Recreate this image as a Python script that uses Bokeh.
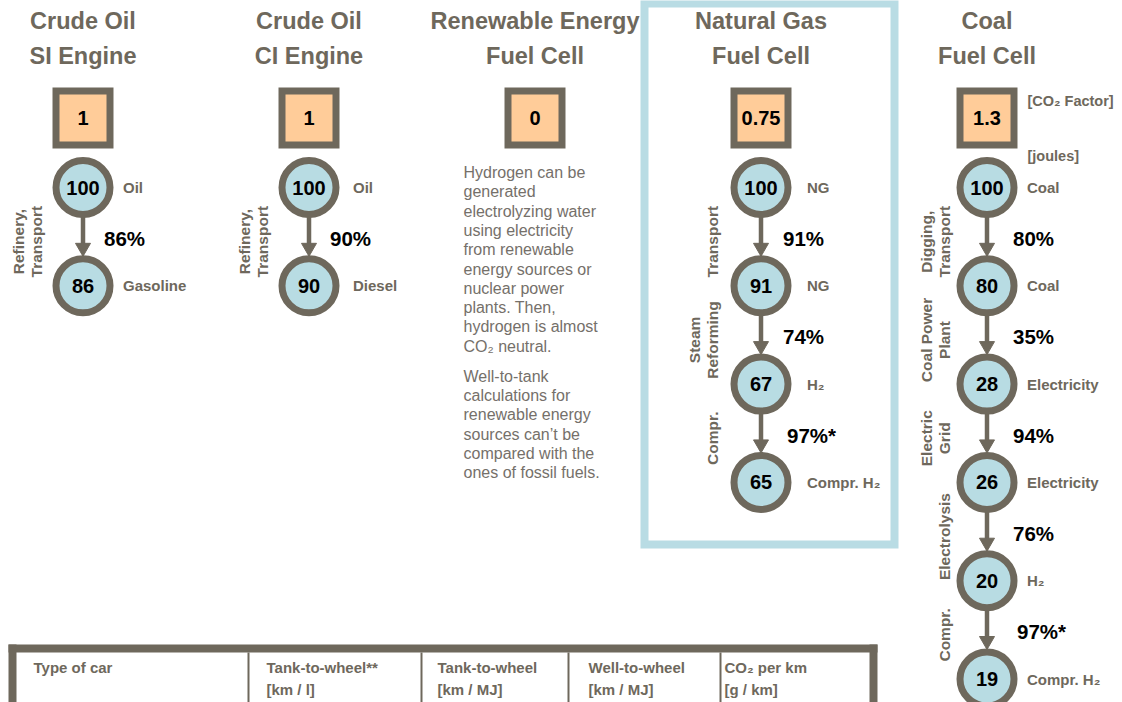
import numpy as np
from bokeh.plotting import figure
from bokeh.models import Range1d, ColumnDataSource
from bokeh.core.properties import value
from bokeh.embed import file_html
from bokeh.resources import INLINE

# ---------------- data ----------------
titles_top = ["Crude Oil", "Crude Oil", "Renewable Energy", "Natural Gas", "Coal"]
titles_bottom = ["SI Engine", "CI Engine", "Fuel Cell", "Fuel Cell", "Fuel Cell"]
co2_factor = ["1", "1", "0", "0.75", "1.3"]
node_values = [[100, 86], [100, 90], [], [100, 91, 67, 65], [100, 80, 28, 26, 20, 19]]
node_names = [["Oil", "Gasoline"], ["Oil", "Diesel"], [],
              ["NG", "NG", "H₂", "Compr. H₂"],
              ["Coal", "Coal", "Electricity", "Electricity", "H₂", "Compr. H₂"]]
step_efficiency = [["86%"], ["90%"], [], ["91%", "74%", "97%*"],
                   ["80%", "35%", "94%", "76%", "97%*"]]
step_names = [[["Refinery,", "Transport"]], [["Refinery,", "Transport"]], [],
              [["Transport"], ["Steam", "Reforming"], ["Compr."]],
              [["Digging,", "Transport"], ["Coal Power", "Plant"], ["Electric", "Grid"],
               ["Electrolysis"], ["Compr."]]]
unit_labels = ["[CO₂ Factor]", "[joules]"]
renewable_note = [
    ["Hydrogen can be", "generated", "electrolyzing  water", "using electricity",
     "from renewable", "energy sources or", "nuclear power", "plants. Then,",
     "hydrogen is almost", "CO₂ neutral."],
    ["Well-to-tank", "calculations for", "renewable energy", "sources can’t be",
     "compared with the", "ones of fossil fuels."],
]
table_header_1 = ["Type of  car", "Tank-to-wheel**", "Tank-to-wheel", "Well-to-wheel", "CO₂ per km"]
table_header_2 = ["", "[km / l]", "[km / MJ]", "[km / MJ]", "[g / km]"]

# ---------------- style / layout ----------------
FONT = "Liberation Sans"
GRAY = "#6E685C"
BLUE = "#B8DCE3"
ORANGE = "#FFCC99"
BOXBLUE = "#B9DCE4"
TXT_GRAY = "#6E685C"

W, H = 1122, 702
col_x = [82.5 + 226 * i for i in range(5)]
title_y = [20, 55]
sq_y = 117.5
node_y0, node_dy = 187, 98.3
pct_dx = [21, 21, 0, 22, 26]
name_dx = [40, 44, 0, 46, 40]
vlab_dx = [-47, -47, 0, -49, -43]

p = figure(width=W, height=H, x_range=Range1d(0, W), y_range=Range1d(H, 0),
           output_backend="svg", toolbar_location=None,
           x_axis_type=None, y_axis_type=None, min_border=0)
p.outline_line_color = None
p.background_fill_color = "white"
p.border_fill_color = "white"


def add_text(xs, ys, texts, size, color, bold=True, align="left", angle=0.0):
    src = ColumnDataSource(dict(x=xs, y=ys, t=texts))
    p.text(x="x", y="y", text="t", source=src, text_font=value(FONT),
           text_font_size=value(f"{size}px"),
           text_font_style="bold" if bold else "normal",
           text_color=color, text_align=align, text_baseline="middle", angle=angle)


# highlight box around natural gas column
bx_l, bx_r, bx_t, bx_b, bw = 640, 898, -1, 548, 8
p.rect(x=[(bx_l + bx_r) / 2], y=[(bx_t + bx_b) / 2], width=[bx_r - bx_l - bw],
       height=[bx_b - bx_t - bw], fill_color=None, line_color=BOXBLUE, line_width=bw,
       line_join="miter")

# titles
add_text(col_x, [title_y[0]] * 5, titles_top, 23.5, TXT_GRAY, align="center")
add_text(col_x, [title_y[1]] * 5, titles_bottom, 23.5, TXT_GRAY, align="center")

# CO2 factor squares
p.rect(x=col_x, y=[sq_y] * 5, width=54, height=54, fill_color=ORANGE,
       line_color=GRAY, line_width=7, line_join="miter")
add_text(col_x, [sq_y] * 5, co2_factor, 20, "black", align="center")
add_text([col_x[4] + 40.5] * 2, [100, 155], unit_labels, 14.5, TXT_GRAY)

# chains
ax, ay0, ay1, hx, hy = [], [], [], [], []
cx_l, cy_l, val_l, nm_x, nm_y, nm_t = [], [], [], [], [], []
pc_x, pc_y, pc_t = [], [], []
vl_x, vl_y, vl_t = [], [], []
R_OUT = 30.5
HEAD = 15
for i, vals in enumerate(node_values):
    cx = col_x[i]
    for k, v in enumerate(vals):
        y = node_y0 + node_dy * k
        cx_l.append(cx); cy_l.append(y); val_l.append(str(v))
        nm_x.append(cx + name_dx[i]); nm_y.append(y); nm_t.append(node_names[i][k])
    for k, pct in enumerate(step_efficiency[i]):
        ya = node_y0 + node_dy * k
        yb = node_y0 + node_dy * (k + 1)
        tip = yb - R_OUT + 1
        ax.append(cx); ay0.append(ya + R_OUT - 1); ay1.append(tip - 6)
        hx.append(cx); hy.append(tip - HEAD * 0.577)
        mid = (ya + yb) / 2
        pc_x.append(cx + pct_dx[i] + (4 if "*" in pct else 0)); pc_y.append(mid + 2); pc_t.append(pct)
        lines = step_names[i][k]
        n = len(lines)
        for j, ln in enumerate(lines):
            vl_x.append(cx + vlab_dx[i] - (n - 1 - j) * 18); vl_y.append(mid + 5); vl_t.append(ln)

p.segment(x0=ax, y0=ay0, x1=ax, y1=ay1, line_color=GRAY, line_width=4.5)
p.scatter(x=hx, y=hy, marker="inverted_triangle", size=HEAD, fill_color=GRAY, line_color=GRAY)
p.circle(x=cx_l, y=cy_l, radius=27, fill_color=BLUE, line_color=GRAY, line_width=7)
add_text(cx_l, cy_l, val_l, 20, "black", align="center")
add_text(nm_x, nm_y, nm_t, 15, TXT_GRAY)
add_text(pc_x, pc_y, pc_t, 20.5, "black")
add_text(vl_x, vl_y, vl_t, 15.5, TXT_GRAY, align="center", angle=np.pi / 2)

# renewable note paragraph
nx, ny, nt = [], [], []
y = 172
for para in renewable_note:
    for ln in para:
        nx.append(463); ny.append(y); nt.append(ln)
        y += 19.3
    y += 10.7
add_text(nx, ny, nt, 16, "#75706A", bold=False)

# table header (cut off at bottom)
t_l, t_r, t_t, t_b, tb = 8, 877, 644, 702, 8
p.quad(left=[t_l, t_l, t_r - tb], right=[t_r, t_l + tb, t_r], top=[t_t, t_t, t_t],
       bottom=[t_t + tb, t_b, t_b], fill_color=GRAY, line_color=None)
div_x = [248, 421, 568, 720]
p.segment(x0=div_x, y0=[t_t + tb] * 4, x1=div_x, y1=[t_b] * 4, line_color=GRAY, line_width=2)
col_text_x = [33, 266, 437, 588, 724]
add_text(col_text_x, [667] * 5, table_header_1, 15, TXT_GRAY)
add_text(col_text_x[1:], [689] * 4, table_header_2[1:], 15, TXT_GRAY)

open("out.html", "w").write(file_html(p, INLINE))
